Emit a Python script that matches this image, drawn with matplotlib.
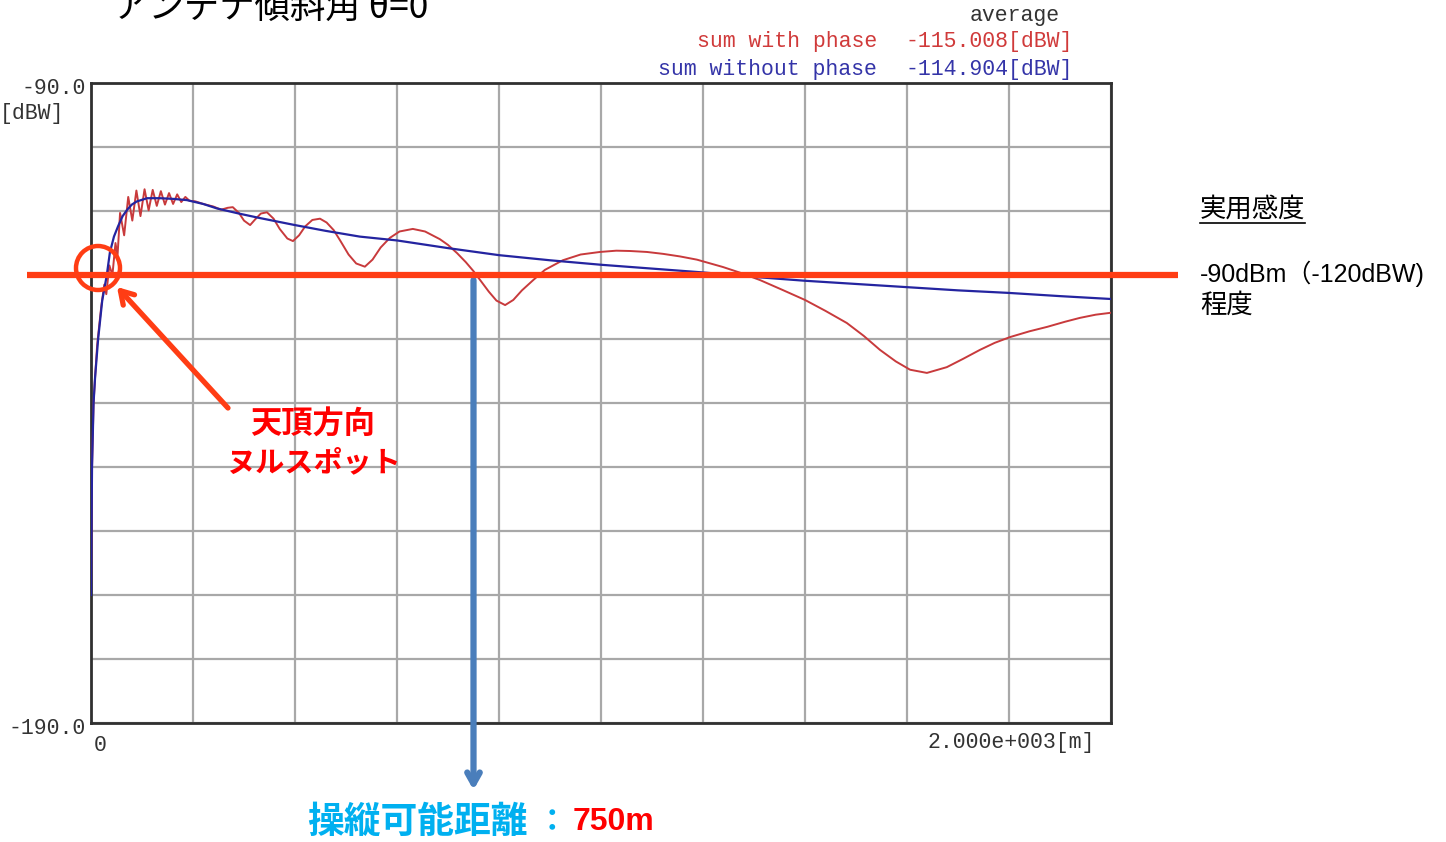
import matplotlib
matplotlib.use("Agg")
import matplotlib.pyplot as plt
from matplotlib.patches import Circle
from matplotlib.transforms import blended_transform_factory

# ---- data -------------------------------------------------------------
# received power vs. horizontal distance, antenna tilt 0
dist_without = [0, 2, 5, 8, 14, 22, 31, 37, 45, 53, 62, 71, 80, 90, 110, 135,
                160, 188, 220, 247, 290, 331, 400, 460, 527, 600, 700, 800,
                900, 1000, 1100, 1200, 1300, 1400, 1500, 1600, 1700, 1800,
                1900, 2000]
power_without = [-170, -150, -140, -136, -130, -124, -120, -116.5, -114,
                 -112.4, -110.8, -109.8, -109, -108.5, -108, -108, -108.1,
                 -108.3, -108.9, -109.6, -110.4, -111.1, -112.2, -113.1,
                 -114, -114.6, -115.8, -116.9, -117.7, -118.4, -119.0,
                 -119.6, -120.3, -120.9, -121.4, -121.9, -122.4, -122.8,
                 -123.3, -123.75]

dist_with = [0, 2, 5, 8, 12, 16, 20, 26, 30, 36, 42, 48, 52, 57, 65, 73, 81,
             89, 97, 105, 113, 121, 129, 137, 145, 153, 161, 169, 177, 185,
             193, 205, 220, 240, 255, 268, 278, 290, 300, 312, 322, 333, 345,
             358, 370, 385, 396, 408, 420, 434, 449, 462, 476, 490, 505, 520,
             537, 552, 568, 586, 605, 631, 655, 684, 700, 718, 735, 750, 765,
             780, 795, 812, 828, 845, 867, 890, 925, 960, 998, 1030, 1057,
             1090, 1122, 1155, 1188, 1239, 1275, 1312, 1355, 1400, 1440, 1482,
             1515, 1547, 1578, 1606, 1639, 1678, 1710, 1743, 1772, 1802, 1840,
             1875, 1910, 1939, 1970, 2000]
power_with = [-170, -150, -140, -136, -131, -128, -125, -121.5, -123, -118.5,
              -120, -115, -117, -110.3, -113.8, -107.8, -111.5, -106.8,
              -110.8, -106.6, -109.9, -106.7, -109.2, -106.9, -109, -107.2,
              -108.9, -107.4, -108.6, -107.8, -108.4, -108.5, -108.9, -109.3,
              -109.8, -109.5, -109.4, -110.3, -111.5, -112.2, -111.3, -110.4,
              -110.2, -111.2, -112.8, -114.3, -114.7, -113.8, -112.4, -111.4,
              -111.2, -111.8, -113, -114.8, -116.8, -118.2, -118.7, -117.6,
              -115.7, -114.2, -113.2, -112.8, -113.2, -114.4, -115.3, -116.6,
              -118, -119.4, -121, -122.6, -124, -124.7, -123.9, -122.4,
              -120.8, -119.2, -117.7, -116.8, -116.4, -116.2, -116.25, -116.4,
              -116.7, -117.1, -117.6, -118.75, -119.7, -120.8, -122.3, -123.9,
              -125.6, -127.5, -129.5, -131.7, -133.5, -134.8, -135.3, -134.4,
              -133.1, -131.7, -130.6, -129.7, -128.8, -128.1, -127.3, -126.7,
              -126.2, -125.9]

avg_with = -115.008
avg_without = -114.904
sensitivity_dbw = -120
range_m = 750

x_min, x_max = 0, 2000
y_min, y_max = -190.0, -90.0

# ---- figure -----------------------------------------------------------
W, H = 1446, 842
fig = plt.figure(figsize=(W / 100, H / 100), dpi=100, facecolor="white")
ax = fig.add_axes([91 / W, 1 - 723 / H, 1020 / W, 640 / H])

ax.set_xlim(x_min, x_max)
ax.set_ylim(y_min, y_max)
ax.set_xticks(range(0, 2001, 200))
ax.set_yticks(range(-190, -89, 10))
ax.tick_params(length=0, labelbottom=False, labelleft=False)
ax.grid(True, color="#a8a8a8", lw=1.6)
ax.set_axisbelow(True)
for s in ax.spines.values():
    s.set_color("#303030")
    s.set_linewidth(2.0)

RED_LINE = "#c83a3c"
BLUE_LINE = "#2424a0"
ax.plot(dist_with, power_with, color=RED_LINE, lw=1.4, zorder=3)
ax.plot(dist_without, power_without, color=BLUE_LINE, lw=1.6, zorder=4)

mono = "Liberation Mono"
msize = 15.5
lab_col = "#333333"
ax.text(-0.005, 0.992, f"{y_max:.1f}", transform=ax.transAxes, ha="right",
        va="center", family=mono, fontsize=msize, color=lab_col)
ax.text(-0.026, 0.953, "[dBW]", transform=ax.transAxes, ha="right",
        va="center", family=mono, fontsize=msize, color=lab_col)
ax.text(-0.005, -0.008, f"{y_min:.1f}", transform=ax.transAxes, ha="right",
        va="center", family=mono, fontsize=msize, color=lab_col)
ax.text(0.009, -0.035, "0", transform=ax.transAxes, ha="center",
        va="center", family=mono, fontsize=msize, color=lab_col)
ax.text(0.984, -0.03, f"{x_max:.3e}".replace("e+0", "e+00") + "[m]",
        transform=ax.transAxes, ha="right", va="center", family=mono,
        fontsize=msize, color=lab_col)

# header with averages
hdr_red = "#d03a3a"
hdr_blue = "#3434a8"
fig.text(1060 / W, 1 - 15 / H, "average", ha="right", va="center",
         family=mono, fontsize=msize, color="#333333")
fig.text(877 / W, 1 - 42 / H, "sum with phase", ha="right", va="center",
         family=mono, fontsize=msize, color=hdr_red)
fig.text(1073 / W, 1 - 42 / H, f"{avg_with:.3f}[dBW]", ha="right",
         va="center", family=mono, fontsize=msize, color=hdr_red)
fig.text(877 / W, 1 - 69 / H, "sum without phase", ha="right", va="center",
         family=mono, fontsize=msize, color=hdr_blue)
fig.text(1073 / W, 1 - 69 / H, f"{avg_without:.3f}[dBW]", ha="right",
         va="center", family=mono, fontsize=msize, color=hdr_blue)

# title (runs off the top edge)
jp = ["Noto Sans CJK JP", "DejaVu Sans"]
fig.text(113 / W, 1 - 18 / H, "アンテナ傾斜角 θ=0", ha="left", va="baseline",
         family=jp, fontsize=25.5, color="black")

# ---- annotations --------------------------------------------------------
ORANGE = "#ff3d14"
fig_x_data_y = blended_transform_factory(fig.transFigure, ax.transData)
ax.plot([27 / W, 1178 / W], [sensitivity_dbw, sensitivity_dbw],
        transform=fig_x_data_y, color=ORANGE, lw=4.5, clip_on=False,
        zorder=6, solid_capstyle="butt")

over = fig.add_axes([0, 0, 1, 1], facecolor="none")
over.set_xlim(0, W)
over.set_ylim(H, 0)
over.axis("off")

over.add_patch(Circle((98, 268), 22, fill=False, ec=ORANGE, lw=3.2))
over.annotate("", xy=(117, 287), xytext=(228, 408),
              arrowprops=dict(arrowstyle="->,head_length=0.9,head_width=0.55",
                              color=ORANGE, lw=3.8, shrinkA=0, shrinkB=0))
over.text(313, 425, "天頂方向", ha="center", va="center", family=jp,
          fontsize=22.5, fontweight="bold", color="#ff0000")
over.text(313, 462, "ヌルスポット", ha="center", va="center", family=jp,
          fontsize=21, fontweight="bold", color="#ff0000")

# operating-range arrow
ax.annotate("", xy=(range_m, 52), xycoords=("data", "figure pixels"),
            xytext=(range_m, sensitivity_dbw - 0.8), textcoords="data",
            arrowprops=dict(arrowstyle="->,head_length=0.8,head_width=0.45",
                            color="#4a7ebb", lw=4.5, shrinkA=0, shrinkB=0),
            annotation_clip=False)

over.text(307, 822, "操縦可能距離", ha="left", va="center", family=jp,
          fontsize=26.5, fontweight="bold", color="#00b0f0")
over.text(552, 822, "：", ha="center", va="center", family=jp,
          fontsize=22, fontweight="bold", color="#00b0f0")
over.text(573, 822, f"{range_m}m", ha="left", va="center",
          family=["Liberation Sans", "DejaVu Sans"], fontsize=23,
          fontweight="bold", color="#ff0000")

# sensitivity note on the right
over.text(1200, 209, "実用感度", ha="left", va="center", family=jp,
          fontsize=19, color="black")
over.plot([1200, 1305], [223, 223], color="black", lw=1.2)
over.text(1200, 274, f"-90dBm（{sensitivity_dbw}dBW)", ha="left",
          va="center", family=["Liberation Sans", "Noto Sans CJK JP"],
          fontsize=18, color="black")
over.text(1200, 305, "程度", ha="left", va="center", family=jp,
          fontsize=19, color="black")

fig.savefig("out.png", dpi=100, facecolor="white")
